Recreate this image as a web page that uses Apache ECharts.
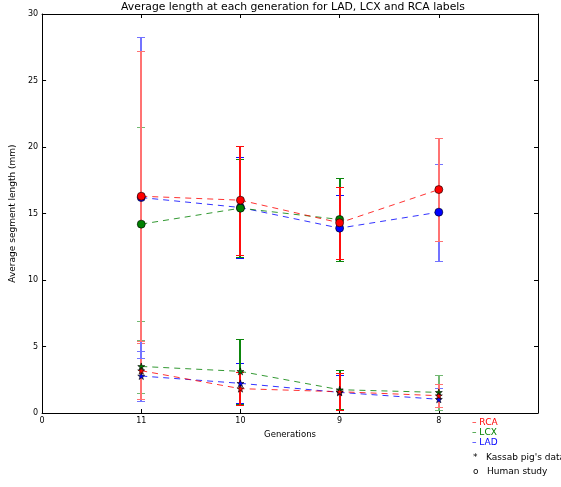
<!DOCTYPE html>
<html>
<head>
<meta charset="utf-8">
<script src="https://cdn.jsdelivr.net/npm/echarts@6/dist/echarts.min.js"></script>
<style>html,body{margin:0;padding:0;background:#fff;}#chart{width:561px;height:487px;}</style>
</head>
<body>
<div id="chart"></div>
<script>
// ---- data ----
const xTickLabels = ['0', '11', '10', '9', '8', ''];
const genPos = [1, 2, 3, 4];            // positions of generations 11, 10, 9, 8
const yTicks = [0, 5, 10, 15, 20, 25, 30];

// Human study (circles)
const humanRCA = [16.3, 16.0, 14.3, 16.8];
const humanRCAErr = [10.9, 4.1, 2.7, 3.85];
const humanLCX = [14.2, 15.4, 14.55, null];
const humanLCXErr = [7.3, 3.7, 3.15, null];
const humanLAD = [16.2, 15.45, 13.9, 15.1];
const humanLADErr = [12.1, 3.8, 2.5, 3.65];

// Kassab pig's data (stars)
const kassabRCA = [3.18, 1.83, 1.6, 1.3];
const kassabRCAErr = [2.1, 1.25, 1.38, 0.88];
const kassabLCX = [3.5, 3.13, 1.75, 1.55];
const kassabLCXErr = [2.0, 2.42, 1.45, 1.3];
const kassabLAD = [2.78, 2.23, 1.55, 1.03];
const kassabLADErr = [1.9, 1.5, 1.3, 0.82];

const RED = [255, 0, 0], GREEN = [0, 128, 0], BLUE = [0, 0, 255];
const barStrength = [0.55, 0.95, 0.95, 0.55];   // visual strength of error bars per generation
const FONT = 'DejaVu Sans';
const STAR = 'path://M0,-1 L0.2245,-0.309 L0.951,-0.309 L0.363,0.118 L0.588,0.809 L0,0.382 L-0.588,0.809 L-0.363,0.118 L-0.951,-0.309 L-0.2245,-0.309 Z';

function css(c) { return 'rgb(' + c.join(',') + ')'; }
function tint(c, a) { return 'rgb(' + c.map(v => Math.round(v * a + 255 * (1 - a))).join(',') + ')'; }

function pts(vals) {
  const out = [];
  vals.forEach((v, i) => { if (v !== null) out.push([genPos[i], v]); });
  return out;
}
function errSeries(vals, e, color) {
  const data = [], fills = [];
  vals.forEach((v, i) => {
    if (v !== null) {
      data.push([genPos[i], v - e[i], v + e[i]]);
      fills.push(tint(color, barStrength[i]));
    }
  });
  return {
    type: 'custom',
    clip: true,
    z: 2,
    animation: false,
    encode: { x: 0, y: [1, 2] },
    data: data,
    renderItem: function (params, api) {
      const x = api.value(0), lo = api.value(1), hi = api.value(2);
      const top = api.coord([x, hi]);
      const bot = api.coord([x, lo]);
      const px = Math.round(top[0]);
      const ty = Math.round(top[1]), by = Math.round(bot[1]);
      const w = 3;
      const fill = fills[params.dataIndex];
      return {
        type: 'group',
        children: [
          { type: 'rect', shape: { x: px - 1, y: ty, width: 2, height: by - ty + 1 }, style: { fill: fill } },
          { type: 'rect', shape: { x: px - w - 1, y: ty, width: 2 * w + 2, height: 1 }, style: { fill: fill } },
          { type: 'rect', shape: { x: px - w - 1, y: by, width: 2 * w + 2, height: 1 }, style: { fill: fill } }
        ]
      };
    }
  };
}
function lineSeries(vals, color, symbol, size) {
  return {
    type: 'line',
    data: pts(vals),
    z: 3,
    symbol: symbol,
    symbolSize: size,
    showSymbol: true,
    animation: false,
    lineStyle: { color: css(color), width: 1, type: [6, 5], opacity: 0.8 },
    itemStyle: { color: css(color), borderColor: '#000', borderWidth: 0.6, opacity: 1 }
  };
}

const chart = echarts.init(document.getElementById('chart'), null, { renderer: 'canvas' });
const axisLine = { show: true, onZero: false, lineStyle: { color: '#000', width: 1 } };
const tick = { show: true, inside: true, length: 4, lineStyle: { color: '#000' } };
const option = {
  animation: false,
  backgroundColor: '#fff',
  title: {
    text: 'Average length at each generation for LAD, LCX and RCA labels',
    left: 288, top: -3, textAlign: 'center',
    textStyle: { fontFamily: FONT, fontSize: 10.8, fontWeight: 'normal', color: '#000' }
  },
  grid: { left: 38, right: 23, top: 14, bottom: 74, containLabel: false },
  xAxis: [{
    type: 'value', min: 0, max: 5, interval: 1, position: 'bottom',
    name: 'Generations', nameLocation: 'middle', nameGap: 16,
    nameTextStyle: { fontFamily: FONT, fontSize: 8.5, color: '#000' },
    axisLine: axisLine, axisTick: tick,
    axisLabel: { fontFamily: FONT, fontSize: 8, color: '#000', margin: 4,
      formatter: v => xTickLabels[Math.round(v)] || '' },
    splitLine: { show: false }
  }, {
    type: 'value', min: 0, max: 5, interval: 1, position: 'top',
    axisLine: axisLine, axisTick: tick,
    axisLabel: { show: false }, splitLine: { show: false }
  }],
  yAxis: [{
    type: 'value', min: yTicks[0], max: yTicks[yTicks.length - 1], interval: 5, position: 'left',
    name: 'Average segment length (mm)', nameLocation: 'middle', nameGap: 19,
    nameTextStyle: { fontFamily: FONT, fontSize: 9, color: '#000' },
    axisLine: axisLine, axisTick: tick,
    axisLabel: { fontFamily: FONT, fontSize: 8, color: '#000', margin: 4 },
    splitLine: { show: false }
  }, {
    type: 'value', min: yTicks[0], max: yTicks[yTicks.length - 1], interval: 5, position: 'right',
    axisLine: axisLine, axisTick: tick,
    axisLabel: { show: false }, splitLine: { show: false }
  }],
  series: [
    errSeries(kassabLAD, kassabLADErr, BLUE),
    errSeries(kassabLCX, kassabLCXErr, GREEN),
    errSeries(kassabRCA, kassabRCAErr, RED),
    errSeries(humanLAD, humanLADErr, BLUE),
    errSeries(humanLCX, humanLCXErr, GREEN),
    errSeries(humanRCA, humanRCAErr, RED),
    lineSeries(kassabLAD, BLUE, STAR, 7),
    lineSeries(kassabLCX, GREEN, STAR, 7),
    lineSeries(kassabRCA, RED, STAR, 7),
    lineSeries(humanLAD, BLUE, 'circle', 8),
    lineSeries(humanLCX, GREEN, 'circle', 8),
    lineSeries(humanRCA, RED, 'circle', 8)
  ],
  graphic: [
    { type: 'text', left: 472, top: 418, style: { text: '– RCA', fill: css(RED), font: '9px "DejaVu Sans"' } },
    { type: 'text', left: 472, top: 428, style: { text: '– LCX', fill: css(GREEN), font: '9px "DejaVu Sans"' } },
    { type: 'text', left: 472, top: 438, style: { text: '– LAD', fill: css(BLUE), font: '9px "DejaVu Sans"' } },
    { type: 'text', left: 473, top: 453, style: { text: "*   Kassab pig's data", fill: '#000', font: '9px "DejaVu Sans"' } },
    { type: 'text', left: 473, top: 467, style: { text: 'o   Human study', fill: '#000', font: '9px "DejaVu Sans"' } }
  ]
};
chart.setOption(option);
</script>
</body>
</html>
